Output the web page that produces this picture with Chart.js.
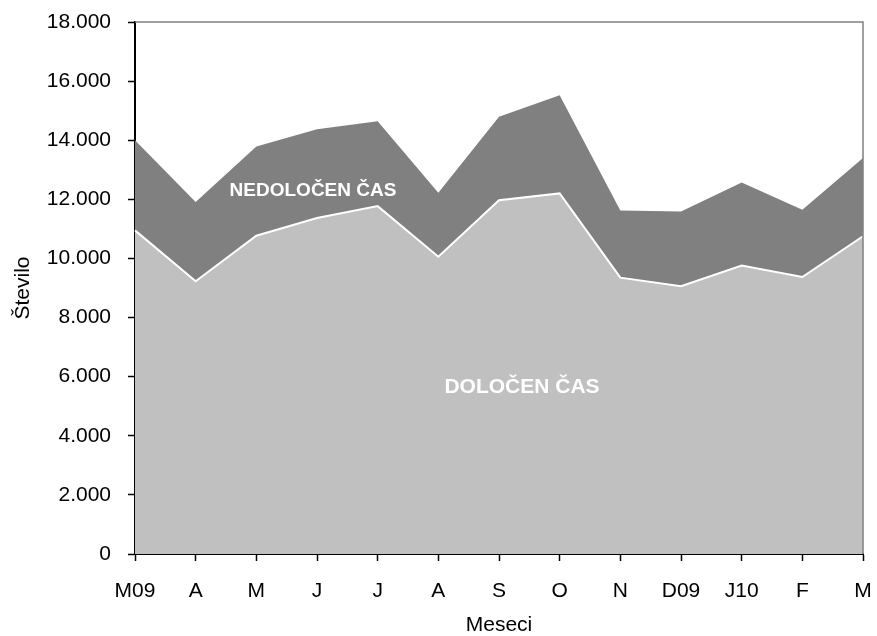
<!DOCTYPE html>
<html>
<head>
<meta charset="utf-8">
<script src="https://cdn.jsdelivr.net/npm/chart.js@4"></script>
<style>
  html, body { margin: 0; padding: 0; background: #fff; }
  #wrap { width: 877px; height: 636px; }
</style>
</head>
<body>
<div id="wrap"><canvas id="grafikon" width="877" height="636"></canvas></div>
<script>
const meseci = ["M09", "A", "M", "J", "J", "A", "S", "O", "N", "D09", "J10", "F", "M"];
const dolocenCas = [10950, 9230, 10770, 11370, 11770, 10060, 11970, 12200, 9350, 9060, 9760, 9370, 10750];
const nedolocenCas = [3050, 2680, 3020, 3000, 2870, 2160, 2820, 3320, 2270, 2530, 2810, 2280, 2650];

const pisava = "'Liberation Sans', Arial, sans-serif";

function tisocice(v) {
    return String(v).replace(/\B(?=(\d{3})+(?!\d))/g, ".");
}

// siv okvir zgoraj in desno + napisa v ploskvah
const okvirInNapisi = {
    id: "okvirInNapisi",
    afterDatasetsDraw(chart) {
        const { ctx, chartArea: a } = chart;
        ctx.save();
        ctx.strokeStyle = "#808080";
        ctx.lineWidth = 1.5;
        ctx.beginPath();
        ctx.moveTo(a.left, a.top);
        ctx.lineTo(a.right, a.top);
        ctx.lineTo(a.right, a.bottom);
        ctx.stroke();

        ctx.fillStyle = "#ffffff";
        ctx.textAlign = "center";
        ctx.textBaseline = "middle";
        ctx.font = "bold 19px " + pisava;
        ctx.fillText("NEDOLOČEN ČAS", 313, 191);
        ctx.font = "bold 21px " + pisava;
        ctx.fillText("DOLOČEN ČAS", 522, 387);
        ctx.restore();
    },
};

new Chart(document.getElementById("grafikon").getContext("2d"), {
    type: "line",
    data: {
        labels: meseci,
        datasets: [
            {
                label: "DOLOČEN ČAS",
                data: dolocenCas,
                backgroundColor: "#c0c0c0",
                borderColor: "#ffffff",
                borderWidth: 2,
                pointRadius: 0,
                tension: 0,
                fill: "origin",
            },
            {
                label: "NEDOLOČEN ČAS",
                data: nedolocenCas,
                backgroundColor: "#808080",
                borderColor: "#808080",
                borderWidth: 0,
                pointRadius: 0,
                tension: 0,
                fill: "-1",
            },
        ],
    },
    options: {
        responsive: false,
        animation: false,
        layout: { padding: { top: 22, right: 14, left: 0, bottom: 0 } },
        plugins: {
            legend: { display: false },
            tooltip: { enabled: false },
        },
        scales: {
            x: {
                offset: false,
                afterFit: (s) => { s.height = 82; s.paddingLeft = 0; s.paddingRight = 0; },
                grid: { drawOnChartArea: false, tickLength: 7, tickColor: "#000", tickWidth: 1.5 },
                border: { color: "#000", width: 2 },
                ticks: { color: "#000", font: { family: pisava, size: 21 }, padding: 18, maxRotation: 0, autoSkip: false },
                title: { display: true, text: "Meseci", color: "#000", font: { family: pisava, size: 21, lineHeight: 1 }, padding: { top: 0, bottom: 0 } },
            },
            y: {
                stacked: true,
                min: 0,
                max: 18000,
                afterFit: (s) => { s.width = 135; s.paddingTop = 0; s.paddingBottom = 0; },
                grid: { drawOnChartArea: false, tickLength: 7, tickColor: "#000", tickWidth: 1.5 },
                border: { color: "#000", width: 2 },
                ticks: {
                    stepSize: 2000,
                    color: "#000",
                    font: { family: pisava, size: 21 },
                    padding: 17,
                    callback: (v) => tisocice(v),
                },
                title: { display: true, text: "Število", color: "#000", font: { family: pisava, size: 21, lineHeight: 1 }, padding: { top: 13, bottom: 0 } },
            },
        },
    },
    plugins: [okvirInNapisi],
});
</script>
</body>
</html>
